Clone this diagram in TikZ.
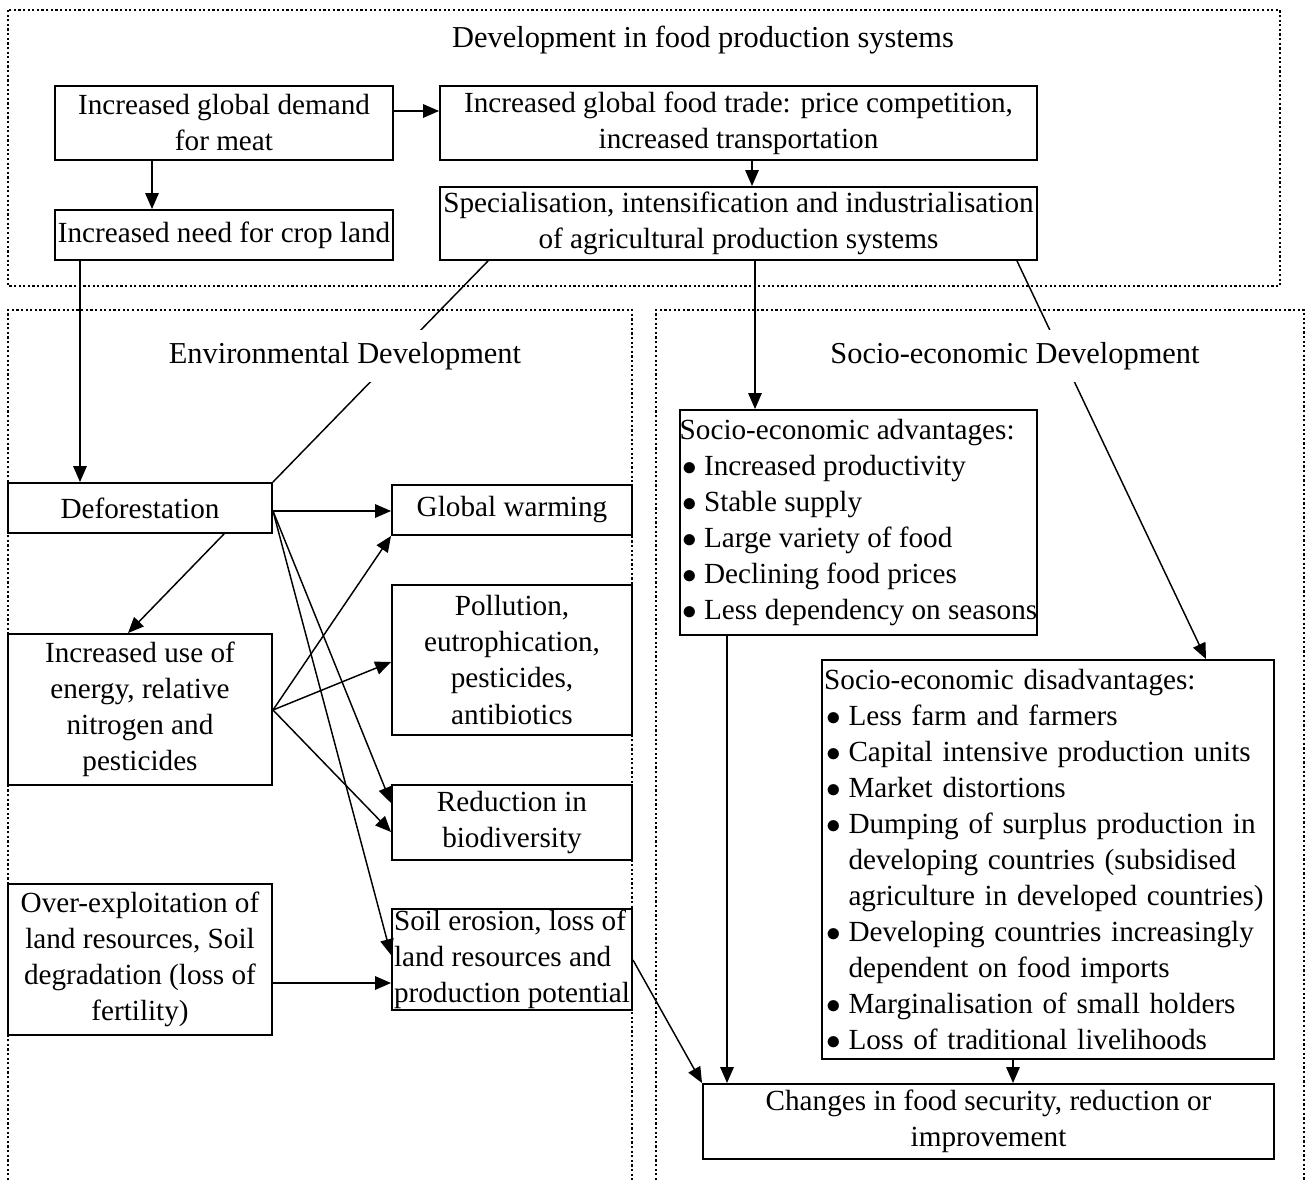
\documentclass[tikz,border=0pt]{standalone}
\usepackage{fontspec}
\setmainfont{Liberation Serif}
\usepackage{tikz}
\usetikzlibrary{arrows.meta}

\newcommand{\pxu}{0.411pt}
\newcommand{\dotitem}{\makebox[10pt][l]{\hspace{1pt}$\bullet$}}
\newcommand{\dotgap}{\hspace*{10pt}}

\begin{document}
\begin{tikzpicture}[x=\pxu, y=-\pxu,
    >={Triangle[length=6.5pt, width=5.5pt]},
    every node/.style={font=\fontsize{12pt}{14.8pt}\selectfont},
    box/.style={draw, line width=0.8pt, inner xsep=0pt, inner ysep=0pt, align=center},
    boxsize/.style 2 args={minimum width=#1*\pxu, minimum height=#2*\pxu},
    frame/.style={densely dotted, line width=0.9pt},
    link/.style={line width=0.6pt},
    heading/.style={font=\fontsize{12.5pt}{15pt}\selectfont},
    cutheading/.style={heading, fill=white, inner xsep=2pt, minimum height=21pt}]
        \useasboundingbox (0, 0) rectangle (1307, 1180);

        % dotted frames
        \draw[frame] (8, 10) rectangle (1280, 286);
        \draw[frame] (8, 1180) -- (8, 310) -- (632, 310) -- (632, 1180);
        \draw[frame] (656, 1180) -- (656, 310) -- (1304, 310) -- (1304, 1180);

        % food production systems
        \draw (703, 40) node[heading] (prodtitle) {Development in food production systems};
        \draw (224, 123) node[box, boxsize={338}{74}] (demand) {Increased global demand\\for meat};
        \draw (738.5, 123) node[box, boxsize={597}{74}] (trade) {Increased global food trade: price competition,\\increased transportation};
        \draw (224, 235) node[box, boxsize={338}{50}] (cropland) {Increased need for crop land};
        \draw (738.5, 223.5) node[box, boxsize={597}{73}] (intensive) {Specialisation, intensification and industrialisation\\of agricultural production systems};

        % environmental side
        \draw (140, 508) node[box, boxsize={264}{50}] (deforest) {Deforestation};
        \draw (140, 709.5) node[box, boxsize={264}{151}] (energyuse) {Increased use of\\energy, relative\\nitrogen and\\pesticides};
        \draw (140, 959.5) node[box, boxsize={264}{151}] (overuse) {Over-exploitation of\\land resources, Soil\\degradation (loss of\\fertility)};
        \draw (512, 510) node[box, boxsize={240}{50}] (warming) {Global warming};
        \draw (512, 660) node[box, boxsize={240}{150}] (pollution) {Pollution,\\eutrophication,\\pesticides,\\antibiotics};
        \draw (512, 822.5) node[box, boxsize={240}{75}] (biodiv) {Reduction in\\biodiversity};
        \draw (512, 959.5) node[box, boxsize={240}{101}, align=left] (soilloss) {Soil erosion, loss of\\land resources and\\production potential};

        % socio-economic side
        \draw (858.5, 522.5) node[box, boxsize={357}{225}, align=left] (advant) {Socio-economic advantages:\\
          \dotitem Increased productivity\\
          \dotitem Stable supply\\
          \dotitem Large variety of food\\
          \dotitem Declining food prices\\
          \dotitem Less dependency on seasons};
        \draw (1048, 859.5) node[box, boxsize={452}{399}, align=left, text width=184pt, inner xsep=1pt] (disadv) {Socio-economic disadvantages:\\
          \dotitem Less farm and farmers\\
          \dotitem Capital intensive production units\\
          \dotitem Market distortions\\
          \dotitem Dumping of surplus production in\\
          \dotgap developing countries (subsidised\\
          \dotgap agriculture in developed countries)\\
          \dotitem Developing countries increasingly\\
          \dotgap dependent on food imports\\
          \dotitem Marginalisation of small holders\\
          \dotitem Loss of traditional livelihoods};
        \draw (988.5, 1121.5) node[box, boxsize={571}{75}] (foodsec) {Changes in food security, reduction or\\improvement};

        % connectors
        \draw[link, ->] (demand.east |- 0, 111) -- (trade.west |- 0, 111);
        \draw[link, ->] (demand.south -| 152, 0) -- (cropland.north -| 152, 0);
        \draw[link, ->] (trade.south -| 752, 0) -- (intensive.north -| 752, 0);
        \draw[link, ->] (cropland.south -| 80, 0) -- (deforest.north -| 80, 0);
        \draw[link] (intensive.south -| 488, 0) -- (deforest.north east);
        \draw[link, ->] (intensive.south -| 755, 0) -- (advant.north -| 755, 0);
        \draw[link, ->] (intensive.south -| 1017, 0) -- (disadv.north -| 1206, 0);

        \draw[link, ->] (deforest.east |- 0, 511) -- (warming.west |- 0, 511);
        \draw[link, ->] (deforest.south -| 224, 0) -- (energyuse.north -| 128, 0);
        \draw[link, ->] (deforest.east |- 0, 511) -- (biodiv.west |- 0, 803);
        \draw[link, ->] (deforest.east |- 0, 511) -- (soilloss.west |- 0, 955);
        \draw[link, ->] (energyuse.east |- 0, 710) -- (warming.south west);
        \draw[link, ->] (energyuse.east |- 0, 710) -- (pollution.west |- 0, 662);
        \draw[link, ->] (energyuse.east |- 0, 710) -- (biodiv.west |- 0, 832);
        \draw[link, ->] (overuse.east |- 0, 983) -- (soilloss.west |- 0, 983);
        \draw[link, ->] (soilloss.east |- 0, 960) -- (foodsec.north west);
        \draw[link, ->] (advant.south -| 727, 0) -- (foodsec.north -| 727, 0);
        \draw[link, ->] (disadv.south -| 1013, 0) -- (foodsec.north -| 1013, 0);

        % headings over the long lines
        \draw (345, 356) node[cutheading] (envtitle) {Environmental Development};
        \draw (1015, 356) node[cutheading] (soctitle) {Socio-economic Development};
      \end{tikzpicture}
\end{document}
